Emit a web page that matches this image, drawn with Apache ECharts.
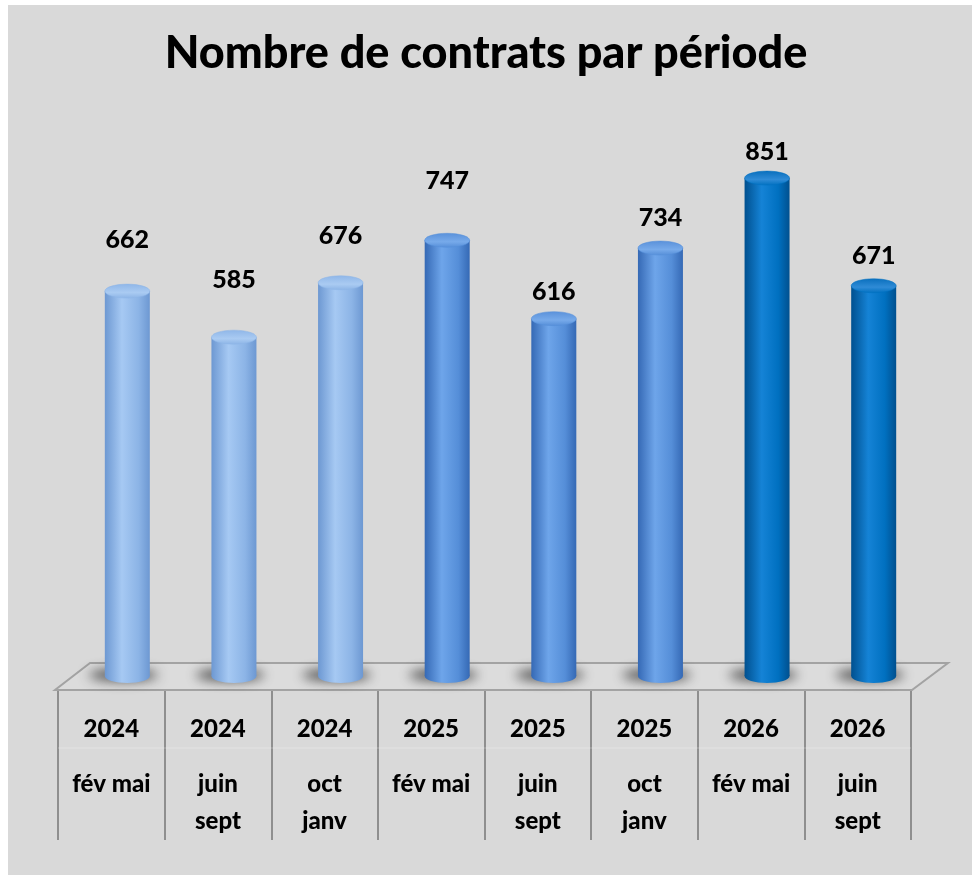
<!DOCTYPE html>
<html>
<head>
<meta charset="utf-8">
<style>
  html, body { margin: 0; padding: 0; background: #fff; }
  #chart { width: 972px; height: 875px; }
</style>
<script src="https://cdn.jsdelivr.net/npm/echarts@6/dist/echarts.min.js"></script>
</head>
<body>
<div id="chart"></div>
<script>
// data
const years = ['2024', '2024', '2024', '2025', '2025', '2025', '2026', '2026']
const periods = ['fév mai', 'juin\nsept', 'oct\njanv', 'fév mai', 'juin\nsept', 'oct\njanv', 'fév mai', 'juin\nsept']
const contracts = [662, 585, 676, 747, 616, 734, 851, 671]

const categories = years.map((y, i) => y + ' ' + periods[i].replace('\n', ' '))

// cylinder shading per year
const shades = {
  '2024': { edge: '#6d98d2', light: '#a6c9f3', mid: '#8cb4e6', cap: '#8fb6e8', capLight: '#aacbf2' },
  '2025': { edge: '#3569b5', light: '#6ea5ea', mid: '#558ed8', cap: '#5a91da', capLight: '#77aaea' },
  '2026': { edge: '#00508f', light: '#1583d6', mid: '#0070c0', cap: '#0a6fbd', capLight: '#2f8bd6' },
}

// layout tweaks (not data)
const labelRaise = [51, 57, 47, 59, 27, 30, 26, 30]
const floorLift = 11
const barW = 45
const font = 'Lato, "Open Sans", sans-serif'

const chart = echarts.init(document.getElementById('chart'))

function renderCylinder(params, api) {
  const i = api.value(0)
  const v = api.value(1)
  const top = api.coord([i, v])
  const base = api.coord([i, 0])
  const cx = top[0]
  const rx = barW / 2
  const ry = 7
  const bottomY = base[1] - floorLift
  const c = shades[years[i]]

  const side = new echarts.graphic.LinearGradient(0, 0, 1, 0, [
    { offset: 0, color: c.edge },
    { offset: 0.38, color: c.light },
    { offset: 0.75, color: c.mid },
    { offset: 1, color: c.edge },
  ])
  const cap = new echarts.graphic.LinearGradient(0, 0, 0, 1, [
    { offset: 0, color: c.cap },
    { offset: 0.6, color: c.capLight },
    { offset: 1, color: c.mid },
  ])

  return {
    type: 'group',
    children: [
      // soft floor shadow: only the blurred shadow lands on screen
      {
        type: 'ellipse',
        shape: { cx: cx - 4 - 2000, cy: bottomY - 1, rx: rx + 12, ry: 6 },
        style: {
          fill: 'rgba(60,60,60,1)', shadowColor: 'rgba(55,55,55,0.85)',
          shadowBlur: 12, shadowOffsetX: 2000,
        },
      },
      { type: 'ellipse', shape: { cx, cy: bottomY, rx, ry }, style: { fill: side } },
      { type: 'rect', shape: { x: cx - rx, y: top[1], width: barW, height: bottomY - top[1] }, style: { fill: side } },
      { type: 'ellipse', shape: { cx, cy: top[1], rx, ry }, style: { fill: cap, stroke: c.mid, lineWidth: 0.5 } },
      {
        type: 'text',
        style: {
          text: String(v), x: cx, y: top[1] - labelRaise[i],
          align: 'center', verticalAlign: 'middle',
          font: '900 25px ' + font, fill: '#000',
        },
      },
    ],
  }
}

const option = {
  backgroundColor: '#ffffff',
  animation: false,
  title: {
    text: 'Nombre de contrats par période',
    left: 'center',
    top: 26,
    textStyle: { fontFamily: font, fontSize: 45, fontWeight: 900, color: '#000' },
  },
  graphic: [
    { type: 'rect', z: 0, shape: { x: 8, y: 5, width: 964, height: 870 }, style: { fill: '#d9d9d9' } },
    {
      type: 'polygon', z: 1,
      shape: { points: [[90, 663], [948, 663], [912, 690], [55, 690]] },
      style: { fill: '#dcdcdc', stroke: '#a3a3a3', lineWidth: 2 },
    },
    { type: 'line', z: 1, shape: { x1: 58, y1: 748, x2: 911, y2: 748 }, style: { stroke: 'rgba(255,255,255,0.3)', lineWidth: 1 } },
  ],
  grid: [
    { left: 74, right: 45, top: 89, bottom: 188 },
    { left: 58, right: 61, top: 690, height: 150 },
  ],
  xAxis: [
    {
      gridIndex: 0, type: 'category', data: categories,
      axisLine: { show: false }, axisTick: { show: false }, axisLabel: { show: false },
    },
    {
      gridIndex: 1, type: 'category', data: categories, position: 'top',
      axisLine: { show: false }, axisTick: { show: false },
      splitLine: { show: true, lineStyle: { color: '#8f8f8f', width: 2 } },
      axisLabel: {
        inside: true, margin: 3, interval: 0,
        formatter: (val, idx) =>
          '{y|' + years[idx] + '}\n' + periods[idx].split('\n').map((p) => '{m|' + p + '}').join('\n'),
        rich: {
          y: { fontFamily: font, fontSize: 24, fontWeight: 900, color: '#000', lineHeight: 73 },
          m: { fontFamily: font, fontSize: 24, fontWeight: 900, color: '#000', lineHeight: 37 },
        },
      },
    },
  ],
  yAxis: [
    { gridIndex: 0, type: 'value', min: 0, max: 1000, show: false },
    { gridIndex: 1, type: 'value', show: false },
  ],
  series: [
    {
      type: 'custom',
      xAxisIndex: 0, yAxisIndex: 0,
      renderItem: renderCylinder,
      encode: { x: 0, y: 1 },
      data: contracts.map((v, i) => [i, v]),
    },
  ],
}

chart.setOption(option)
</script>
</body>
</html>
